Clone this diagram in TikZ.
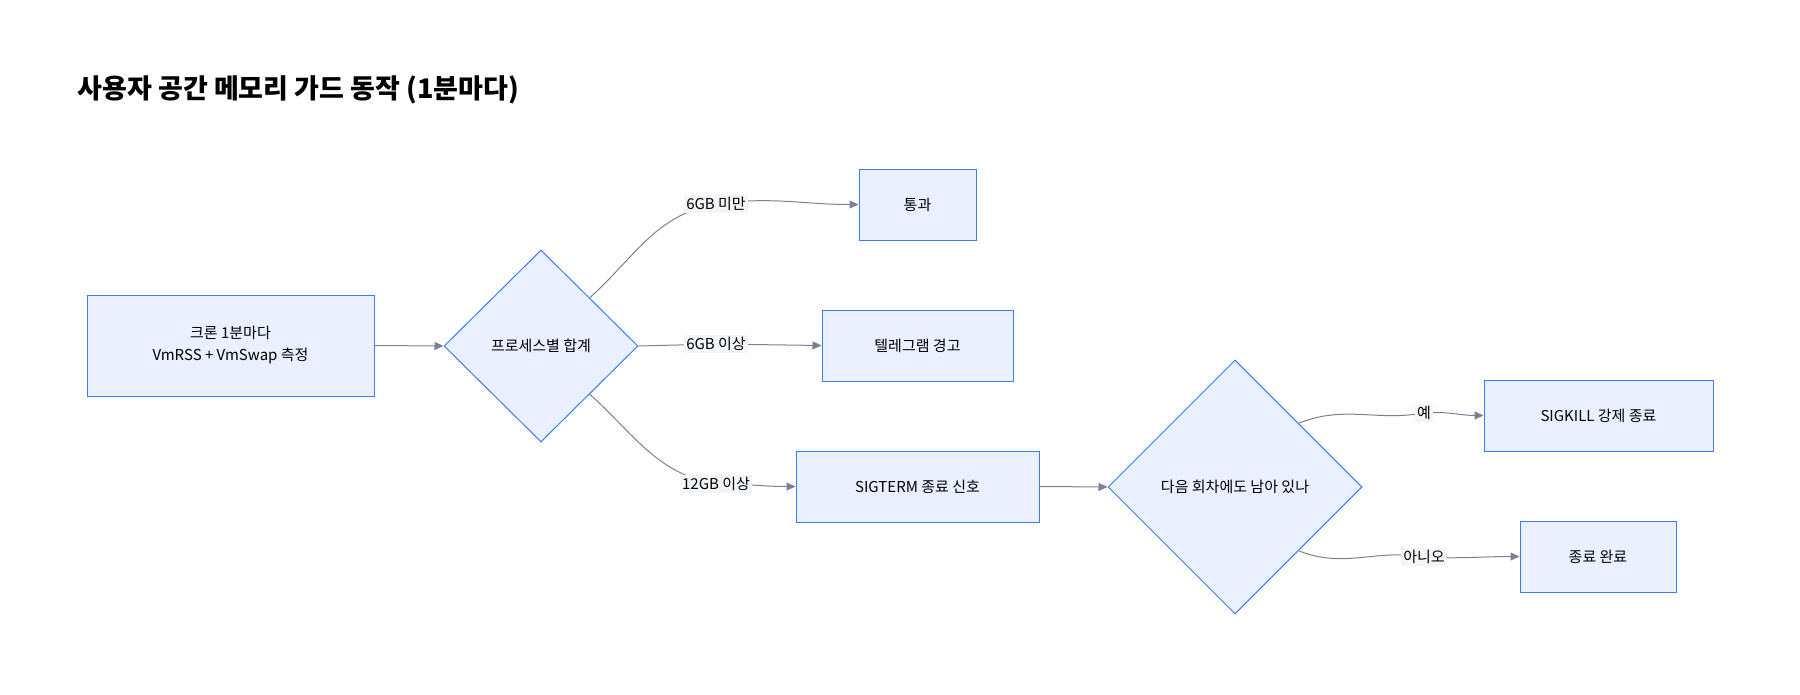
\documentclass[tikz,border=0pt]{standalone}
\usepackage{fontspec}
\setmainfont{Noto Sans CJK KR}
\usetikzlibrary{shapes.geometric,arrows.meta}
\definecolor{nfill}{HTML}{EAF0FF}
\definecolor{nline}{HTML}{3B7CF5}
\definecolor{eline}{HTML}{7B8094}
\definecolor{lfill}{HTML}{F4F5F8}
\begin{document}
\begin{tikzpicture}[x=1pt,y=-1pt,
  box/.style={draw=nline,fill=nfill,line width=1pt,inner sep=0pt,font=\fontsize{15}{22}\selectfont,align=center},
  dia/.style={draw=nline,fill=nfill,line width=1pt,diamond,inner sep=0pt,font=\fontsize{15}{20}\selectfont,align=center},
  edge/.style={draw=eline,line width=1pt,-{Triangle[length=9pt,width=8pt]}},
  lbl/.style={fill=lfill,inner sep=2pt,font=\fontsize{15}{18}\selectfont}]
\useasboundingbox (0,0) rectangle (1800,694);
\node[anchor=west,font=\fontsize{27}{32}\selectfont\bfseries] (title) at (74,90) {사용자 공간 메모리 가드 동작 (1분마다)};
\node[box,minimum width=287pt,minimum height=101pt] (cron) at (230.5,345.5) {크론 1분마다\\VmRSS + VmSwap 측정};
\node[dia,minimum width=194pt,minimum height=192pt] (sum) at (541,346) {프로세스별 합계};
\node[box,minimum width=117pt,minimum height=71pt] (pass) at (917.5,204.5) {통과};
\node[box,minimum width=191pt,minimum height=71pt] (warn) at (917.5,345.5) {텔레그램 경고};
\node[box,minimum width=243pt,minimum height=71pt] (term) at (917.5,486.5) {SIGTERM 종료 신호};
\node[dia,minimum width=254pt,minimum height=254pt] (again) at (1235,487) {다음 회차에도 남아 있나};
\node[box,minimum width=229pt,minimum height=71pt] (kill) at (1598.5,415.5) {SIGKILL 강제 종료};
\node[box,minimum width=156pt,minimum height=71pt] (done) at (1598,556.5) {종료 완료};
\coordinate (c1) at (716,204);
\coordinate (c2) at (716,344);
\coordinate (c3) at (716,484);
\coordinate (c4) at (1424,413);
\coordinate (c5) at (1424,557);
\draw[edge] (cron.east) -- (sum.west);
\draw[edge] (sum.north east) to[out=42,in=190] (c1) to[out=8,in=180] (pass.west);
\draw[edge] (sum.east) -- (c2) -- (warn.west);
\draw[edge] (sum.south east) to[out=-42,in=170] (c3) to[out=0,in=180] (term.west);
\draw[edge] (term.east) -- (again.west);
\draw[edge] (again.north east) to[out=22,in=190] (c4) to[out=5,in=180] (kill.west);
\draw[edge] (again.south east) to[out=-22,in=170] (c5) to[out=-3,in=180] (done.west);
\node[lbl] (l1) at (c1) {6GB 미만};
\node[lbl] (l2) at (c2) {6GB 이상};
\node[lbl] (l3) at (c3) {12GB 이상};
\node[lbl] (l4) at (c4) {예};
\node[lbl] (l5) at (c5) {아니오};
\end{tikzpicture}
\end{document}
